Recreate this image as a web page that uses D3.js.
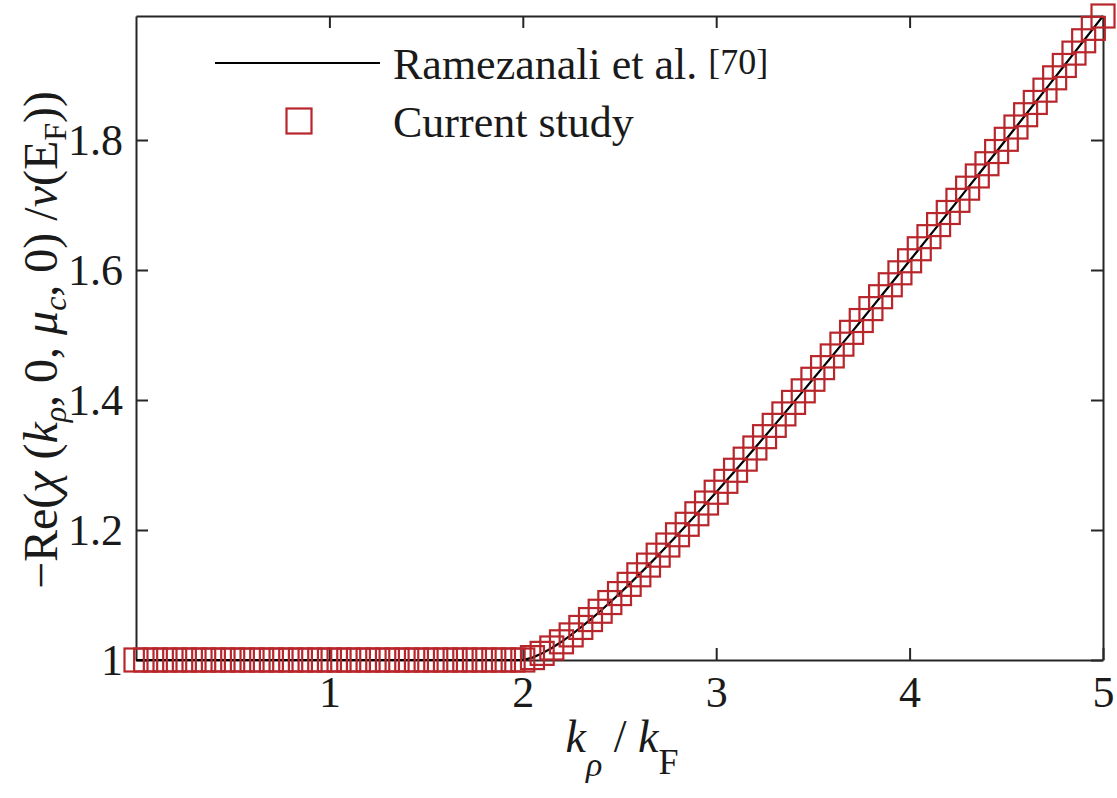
<!DOCTYPE html>
<html>
<head>
<meta charset="utf-8">
<script src="https://cdn.jsdelivr.net/npm/d3@7/dist/d3.min.js"></script>
<style>
  html, body { margin: 0; padding: 0; background: #ffffff; }
  svg { display: block; }
  text { font-family: "Liberation Serif", "Times New Roman", serif; fill: #1a1a1a; }
</style>
</head>
<body>
<svg id="chart" width="1117" height="798"></svg>
<script>
// Normalised wavevector k_rho / k_F
const kRho = [
  0, 0.05, 0.1, 0.15, 0.2, 0.25, 0.3, 0.35, 0.4, 0.45,
  0.5, 0.55, 0.6, 0.65, 0.7, 0.75, 0.8, 0.85, 0.9, 0.95,
  1, 1.05, 1.1, 1.15, 1.2, 1.25, 1.3, 1.35, 1.4, 1.45,
  1.5, 1.55, 1.6, 1.65, 1.7, 1.75, 1.8, 1.85, 1.9, 1.95,
  2, 2.05, 2.1, 2.15, 2.2, 2.25, 2.3, 2.35, 2.4, 2.45,
  2.5, 2.55, 2.6, 2.65, 2.7, 2.75, 2.8, 2.85, 2.9, 2.95,
  3, 3.05, 3.1, 3.15, 3.2, 3.25, 3.3, 3.35, 3.4, 3.45,
  3.5, 3.55, 3.6, 3.65, 3.7, 3.75, 3.8, 3.85, 3.9, 3.95,
  4, 4.05, 4.1, 4.15, 4.2, 4.25, 4.3, 4.35, 4.4, 4.45,
  4.5, 4.55, 4.6, 4.65, 4.7, 4.75, 4.8, 4.85, 4.9, 4.95,
  5
];

// Reference curve (Ramezanali et al. [70])
const ramezanali = [
  1, 1, 1, 1, 1, 1, 1, 1, 1, 1,
  1, 1, 1, 1, 1, 1, 1, 1, 1, 1,
  1, 1, 1, 1, 1, 1, 1, 1, 1, 1,
  1, 1, 1, 1, 1, 1, 1, 1, 1, 1,
  1, 1.0037, 1.0102, 1.0185, 1.0280, 1.0386, 1.0501, 1.0622, 1.0750, 1.0884,
  1.1022, 1.1164, 1.1311, 1.1460, 1.1613, 1.1769, 1.1927, 1.2088, 1.2250, 1.2415,
  1.2581, 1.2749, 1.2919, 1.3090, 1.3262, 1.3436, 1.3610, 1.3786, 1.3963, 1.4141,
  1.4319, 1.4498, 1.4678, 1.4859, 1.5041, 1.5223, 1.5406, 1.5589, 1.5773, 1.5957,
  1.6142, 1.6327, 1.6513, 1.6699, 1.6885, 1.7072, 1.7259, 1.7447, 1.7635, 1.7823,
  1.8011, 1.8200, 1.8389, 1.8578, 1.8767, 1.8957, 1.9147, 1.9337, 1.9527, 1.9718,
  1.9908
];

// Computed values (current study)
const currentStudy = [
  1, 1, 1, 1, 1, 1, 1, 1, 1, 1,
  1, 1, 1, 1, 1, 1, 1, 1, 1, 1,
  1, 1, 1, 1, 1, 1, 1, 1, 1, 1,
  1, 1, 1, 1, 1, 1, 1, 1, 1, 1,
  1, 1.0037, 1.0102, 1.0185, 1.0280, 1.0386, 1.0501, 1.0622, 1.0750, 1.0884,
  1.1022, 1.1164, 1.1311, 1.1460, 1.1613, 1.1769, 1.1927, 1.2088, 1.2250, 1.2415,
  1.2581, 1.2749, 1.2919, 1.3090, 1.3262, 1.3436, 1.3610, 1.3786, 1.3963, 1.4141,
  1.4319, 1.4498, 1.4678, 1.4859, 1.5041, 1.5223, 1.5406, 1.5589, 1.5773, 1.5957,
  1.6142, 1.6327, 1.6513, 1.6699, 1.6885, 1.7072, 1.7259, 1.7447, 1.7635, 1.7823,
  1.8011, 1.8200, 1.8389, 1.8578, 1.8767, 1.8957, 1.9147, 1.9337, 1.9527, 1.9718,
  1.9908
];

const xTicks = [1, 2, 3, 4, 5];
const yTicks = [1, 1.2, 1.4, 1.6, 1.8];
const legendLabels = ["Ramezanali et al. ", "[70]", "Current study"];

const svg = d3.select("#chart");
const plot = { left: 136, right: 1103, top: 16, bottom: 660 };
const axisColor = "#262626";
const markerColor = "#b8262b";
const markerSide = 23;
const tickLen = 12;
const serif = "'Liberation Serif', 'Times New Roman', serif";

const x = d3.scaleLinear().domain([0, 5]).range([plot.left, plot.right]);
const y = d3.scaleLinear().domain([1, d3.max(ramezanali)]).range([plot.bottom, plot.top]);

svg.append("rect").attr("width", 1117).attr("height", 798).attr("fill", "#fff");

// Axes (box with mirrored inward ticks)
const bottomAxis = d3.axisBottom(x).tickValues(xTicks).tickSizeInner(-tickLen).tickSizeOuter(0)
  .tickFormat(d3.format("d"));
const topAxis = d3.axisTop(x).tickValues(xTicks).tickSizeInner(-tickLen).tickSizeOuter(0).tickFormat("");
const leftAxis = d3.axisLeft(y).tickValues(yTicks).tickSizeInner(-tickLen).tickSizeOuter(0)
  .tickFormat(d => d === 1 ? "1" : d3.format(".1f")(d));
const rightAxis = d3.axisRight(y).tickValues(yTicks).tickSizeInner(-tickLen).tickSizeOuter(0).tickFormat("");

function styleAxis(g) {
  g.attr("font-family", serif).attr("font-size", 44);
  g.select(".domain").attr("stroke", axisColor).attr("stroke-width", 2);
  g.selectAll(".tick line").attr("stroke", axisColor).attr("stroke-width", 2);
  g.selectAll(".tick text")
    .attr("fill", "#1a1a1a")
    .style("font-family", serif)
    .style("font-size", "44px");
}

svg.append("g").attr("transform", `translate(0,${plot.bottom})`).call(bottomAxis).call(styleAxis)
  .selectAll(".tick text").attr("dy", null).attr("y", 47);
svg.append("g").attr("transform", `translate(0,${plot.top})`).call(topAxis).call(styleAxis);
svg.append("g").attr("transform", `translate(${plot.left},0)`).call(leftAxis).call(styleAxis)
  .selectAll(".tick text").attr("x", -13).attr("dy", "0.34em");
svg.append("g").attr("transform", `translate(${plot.right},0)`).call(rightAxis).call(styleAxis);

// Reference curve
const line = d3.line().x((d, i) => x(kRho[i])).y(d => y(d));
svg.append("path")
  .datum(ramezanali)
  .attr("d", line)
  .attr("fill", "none")
  .attr("stroke", "#000")
  .attr("stroke-width", 2.2);

// Current-study markers (open squares)
svg.append("g").selectAll("rect")
  .data(currentStudy)
  .join("rect")
  .attr("x", (d, i) => x(kRho[i]) - markerSide / 2)
  .attr("y", d => y(d) - markerSide / 2)
  .attr("width", markerSide)
  .attr("height", markerSide)
  .attr("fill", "none")
  .attr("stroke", markerColor)
  .attr("stroke-width", 2.2);

// Legend
const legend = svg.append("g");
legend.append("line")
  .attr("x1", 215).attr("x2", 380).attr("y1", 63).attr("y2", 63)
  .attr("stroke", "#000").attr("stroke-width", 2.2);
const l1 = legend.append("text").attr("x", 393).attr("y", 79).style("font-size", "44px");
l1.append("tspan").text(legendLabels[0]);
l1.append("tspan").attr("dy", -5).style("font-size", "36px").text(legendLabels[1]);
legend.append("rect")
  .attr("x", 298 - markerSide / 2).attr("y", 120 - markerSide / 2)
  .attr("width", markerSide + 2).attr("height", markerSide + 2)
  .attr("fill", "none").attr("stroke", markerColor).attr("stroke-width", 2.2);
legend.append("text").attr("x", 393).attr("y", 137).style("font-size", "44px").text(legendLabels[2]);

// X-axis label: k_rho / k_F
const xl = svg.append("text").attr("x", 622).attr("y", 752).attr("text-anchor", "middle").style("font-size", "46px");
xl.append("tspan").style("font-style", "italic").text("k");
xl.append("tspan").attr("dy", 24).style("font-size", "34px").style("font-style", "italic").text("ρ");
xl.append("tspan").attr("dy", -24).text(" / ");
xl.append("tspan").style("font-style", "italic").text("k");
xl.append("tspan").attr("dy", 22).style("font-size", "36px").text("F");

// Y-axis label: −Re(χ(k_rho, 0, mu_c, 0)/nu(E_F))
const yl = svg.append("text")
  .attr("transform", "translate(57,340) rotate(-90)")
  .attr("text-anchor", "middle")
  .style("font-size", "48px");
yl.append("tspan").text("−Re(");
yl.append("tspan").style("font-style", "italic").text("χ");
yl.append("tspan").text(" (");
yl.append("tspan").style("font-style", "italic").text("k");
yl.append("tspan").attr("dy", 9).style("font-size", "32px").style("font-style", "italic").text("ρ");
yl.append("tspan").attr("dy", -9).text(", 0, ");
yl.append("tspan").style("font-style", "italic").text("μ");
yl.append("tspan").attr("dy", 9).style("font-size", "32px").style("font-style", "italic").text("c");
yl.append("tspan").attr("dy", -9).text(", 0) /");
yl.append("tspan").style("font-style", "italic").text("ν");
yl.append("tspan").text("(E");
yl.append("tspan").attr("dy", 9).style("font-size", "32px").text("F");
yl.append("tspan").attr("dy", -9).text("))");
</script>
</body>
</html>
